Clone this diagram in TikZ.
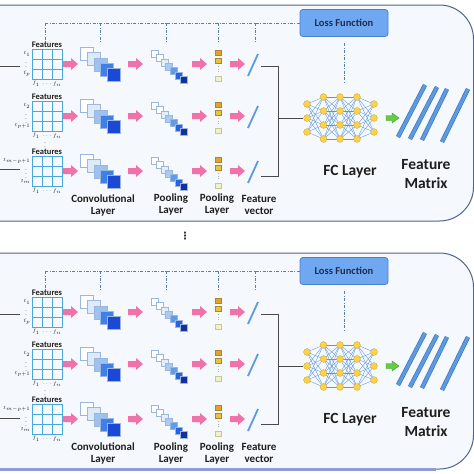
\documentclass[tikz,border=0pt]{standalone}
\usepackage{fontspec}
\setmainfont{Carlito}
\newfontfamily\dejavu{DejaVu Sans}
\usetikzlibrary{calc}
\definecolor{panelfill}{HTML}{F5F8FC}
\definecolor{paneldraw}{HTML}{4F6590}
\definecolor{gridc}{HTML}{4BA8D8}
\definecolor{pinkc}{HTML}{F072AA}
\definecolor{lossfill}{HTML}{6FA8F0}
\definecolor{lossdraw}{HTML}{4A7FD0}
\definecolor{losstxt}{HTML}{1F2D50}
\definecolor{dashc}{HTML}{5A7FB0}
\definecolor{fcfill}{HTML}{F7D44C}
\definecolor{fcdraw}{HTML}{E0A830}
\definecolor{edgec}{HTML}{5B97DC}
\definecolor{barc}{HTML}{5E9AE0}
\definecolor{barout}{HTML}{3A74C0}
\definecolor{txtc}{HTML}{1E1E1E}
\definecolor{linkc}{HTML}{4A4A4A}
\definecolor{sqdraw}{HTML}{9DB6DE}
\definecolor{cv0}{HTML}{FFFFFF}
\definecolor{cv1}{HTML}{DCEAF9}
\definecolor{cv2}{HTML}{9CC2F2}
\definecolor{cv3}{HTML}{3F7FE8}
\definecolor{cv4}{HTML}{1C48D6}
\definecolor{pw0}{HTML}{FFFFFF}
\definecolor{pw1}{HTML}{FFFFFF}
\definecolor{pw2}{HTML}{E3EEFA}
\definecolor{pw3}{HTML}{A9CBF2}
\definecolor{pw4}{HTML}{5E9BEA}
\definecolor{pw5}{HTML}{2563E0}
\definecolor{pw6}{HTML}{13309E}
\definecolor{gold1}{HTML}{E0A32E}
\definecolor{gold2}{HTML}{E8C53A}
\definecolor{golddraw}{HTML}{B0842A}
\definecolor{pale}{HTML}{F2F2C8}
\definecolor{paledraw}{HTML}{C8C890}
\definecolor{greenc}{HTML}{66CC44}
\definecolor{greend}{HTML}{3E9A2E}
\definecolor{lilac}{HTML}{8F9BDB}
\newcommand{\blockarr}[3]{%
  \fill[#3] (#1,#2-3) -- ++(8,0) -- ++(0,-3) -- ++(7,6) -- ++(-7,6) -- ++(0,-3) -- ++(-8,0) -- cycle;}
\begin{document}
\begin{tikzpicture}[x=1pt,y=-1pt,
  panelbox/.style={fill=panelfill, draw=paneldraw, line width=1pt, rounded corners=34pt},
  gridbox/.style={draw=gridc, line width=0.8pt, minimum width=30pt, minimum height=30pt, inner sep=0pt},
  gridline/.style={draw=gridc, line width=0.8pt},
  featlbl/.style={font=\fontsize{8.5}{10}\selectfont\bfseries, text=txtc, inner sep=0pt},
  mathlbl/.style={font=\fontsize{5.5}{6.5}\selectfont, text=txtc, inner sep=0pt},
  sqbox/.style={minimum size=#1, inner sep=0pt, anchor=north west, draw=sqdraw, line width=0.5pt},
  lossbox/.style={fill=lossfill, draw=lossdraw, line width=0.8pt, rounded corners=3pt, minimum width=88pt, minimum height=27pt, font=\fontsize{10.5}{12}\selectfont\bfseries, text=losstxt},
  dd/.style={draw=dashc, line width=0.7pt, dash pattern=on 3pt off 1.5pt on 0.8pt off 1.5pt},
  link/.style={draw=linkc, line width=0.6pt},
  neuron/.style={circle, fill=fcfill, draw=fcdraw, line width=0.4pt, minimum size=6.8pt, inner sep=0pt},
  nnedge/.style={draw=edgec, line width=0.35pt},
  lbl/.style={font=\fontsize{11}{12}\selectfont\bfseries, align=center, text=txtc, inner sep=0pt},
  biglbl/.style={font=\fontsize{15.5}{19}\selectfont\bfseries, align=center, text=txtc, inner sep=0pt},
  fvec/.style={draw=barc, line width=1.8pt},
  baro/.style={draw=barout, line width=4.4pt},
  bari/.style={draw=barc, line width=3pt}]
\useasboundingbox (0,0) rectangle (474,474);
\fill[white] (0,0) rectangle (474,474);
\foreach \P/\oy in {A/0, B/248} {
\begin{scope}[yshift=-\oy pt]
  % panel
  \draw[panelbox] (-10,5) -- (473.5,5) -- (473.5,221) -- (-10,221);
  % loss function and dash-dot feedback
  \node[lossbox] (\P-loss) at (344,23) {Loss Function};
  \coordinate (\P-h0) at (45,23);
  \draw[dd] (\P-h0) -- (\P-loss.west);
  \foreach \x in {45,100,166,218,255} { \draw[dd] (\x,23) -- (\x,43); }
  \draw[dd] ($(\P-loss.south)+(0,6.5)$) -- ++(0,40);
  % rows
  \foreach \r/\yc/\ta/\tb in {1/64/t_1/t_p, 2/116/t_2/t_{p+1}, 3/171/t_{m-p+1}/t_m} {
    \node[gridbox] (\P-m\r) at (47,\yc) {};
    \foreach \k in {10,20} {
      \draw[gridline] (32+\k,\yc-15) -- (32+\k,\yc+15);
      \draw[gridline] (32,\yc-15+\k) -- (62,\yc-15+\k);
    }
    \node[featlbl] (\P-f\r) at (47,\yc-19.5) {Features};
    \node[mathlbl, anchor=east] (\P-ta\r) at (30.5,\yc-10) {$\ta$};
    \node[mathlbl] (\P-td\r) at (26,\yc) {$\vdots$};
    \node[mathlbl, anchor=east] (\P-tb\r) at (30.5,\yc+10) {$\tb$};
    \node[mathlbl] (\P-fa\r) at (36,\yc+20) {$f_1$};
    \node[mathlbl] (\P-fd\r) at (47,\yc+20) {$\cdots$};
    \node[mathlbl] (\P-fb\r) at (57,\yc+20) {$f_n$};
    % arrows
    \blockarr{63}{\yc}{pinkc}
    \blockarr{128}{\yc}{pinkc}
    \blockarr{192}{\yc}{pinkc}
    \blockarr{230}{\yc}{pinkc}
    % convolution stack
    \foreach \i in {0,...,4} {
      \node[sqbox=13pt, fill=cv\i] (\P-c\r-\i) at (80+6.8*\i,\yc-17+5.3*\i) {};
    }
    % pooling stack
    \foreach \i in {0,...,6} {
      \node[sqbox=7pt, fill=pw\i] (\P-p\r-\i) at (151+4.83*\i,\yc-14+4.33*\i) {};
    }
    % second pooling
    \node[minimum size=5.5pt, inner sep=0pt, fill=gold1, draw=golddraw, line width=0.4pt] (\P-q\r-1) at (218.3,\yc-11.2) {};
    \node[minimum size=5.5pt, inner sep=0pt, fill=gold2, draw=golddraw, line width=0.4pt] (\P-q\r-2) at (218.3,\yc-3.2) {};
    \node[minimum size=5.5pt, inner sep=0pt, fill=pale, draw=paledraw, line width=0.4pt] (\P-q\r-3) at (218.3,\yc+14.7) {};
    \draw[draw=gray!60, line width=0.5pt, dotted] (\P-q\r-2.south) ++(0,2.5) -- ++(0,7);
    % feature vector
    \coordinate (\P-v\r a) at (248,\yc+12);
    \coordinate (\P-v\r b) at (258,\yc-10);
    \draw[fvec] (\P-v\r a) -- (\P-v\r b);
  }
  \node[mathlbl] (\P-mdots) at (45,144) {$\vdots$};
  % bracket to FC
  \coordinate (\P-o1) at (261,66);
  \coordinate (\P-o3) at (261,176);
  \coordinate (\P-j) at (278,118);
  % FC network edges
  \foreach \xa/\xb/\la/\lb in {307/323.5/{104,118,132}/{97,111,125,139},
                               323.5/340/{97,111,125,139}/{97,111,125,139},
                               340/357/{97,111,125,139}/{97,111,125,139},
                               357/374/{97,111,125,139}/{104,118,132}} {
    \foreach \ya in \la { \foreach \yb in \lb { \draw[nnedge] (\xa,\ya) -- (\xb,\yb); } }
  }
  \foreach \c/\x/\l in {1/307/{104,118,132}, 2/323.5/{97,111,125,139}, 3/340/{97,111,125,139},
                        4/357/{97,111,125,139}, 5/374/{104,118,132}} {
    \foreach \y [count=\k] in \l { \node[neuron] (\P-n\c-\k) at (\x,\y) {}; }
  }
  \draw[link] (\P-o1) -| (\P-j);
  \draw[link] (\P-o3) -| (\P-j);
  \draw[link] (\P-j) -- (\P-n1-2.west);
  % green arrow
  \filldraw[fill=greenc, draw=greend, line width=0.4pt] (386,115.5) -- ++(6,0) -- ++(0,-2.5) -- ++(7,5) -- ++(-7,5) -- ++(0,-2.5) -- ++(-6,0) -- cycle;
  % feature matrix bars
  \foreach \xa/\ya/\xb/\yb in {398/137/425/85, 410/139/437/87, 422/140/447/89, 442/142/468/89} {
    \draw[baro] (\xa,\ya) -- (\xb,\yb);
    \draw[bari] (\xa,\ya) -- (\xb,\yb);
  }
  % labels
  \node[lbl] (\P-l1) at (103,205) {Convolutional\\Layer};
  \node[lbl] (\P-l2) at (171,205) {Pooling\\Layer};
  \node[lbl] (\P-l3) at (217,205) {Pooling\\Layer};
  \node[lbl] (\P-l4) at (259,205) {Feature\\vector};
  \node[biglbl] (\P-fc) at (350,172) {FC Layer};
  \node[biglbl] (\P-fm) at (426,174.5) {Feature\\Matrix};
\end{scope}
}
% left inputs
\coordinate (inA1) at (-5,66);
\coordinate (endA1) at (20,66);
\coordinate (inA3) at (-5,169);
\coordinate (endA3) at (20,169);
\coordinate (inB1) at (-5,314);
\coordinate (endB1) at (20,314);
\coordinate (inB3) at (-5,418);
\coordinate (endB3) at (20,418);
\draw[link] (inA1) -- (endA1);
\draw[link] (inA3) -- (endA3);
\draw[link] (inB1) -- (endB1);
\draw[link] (inB3) -- (endB3);
\draw[lilac, line width=2.2pt] (-5,469.5) -- (436,469.5);
\node[font=\dejavu\bfseries\fontsize{10}{12}\selectfont, text=txtc, inner sep=0pt] (vdotsmid) at (185,236) {⋮};
\end{tikzpicture}
\end{document}
